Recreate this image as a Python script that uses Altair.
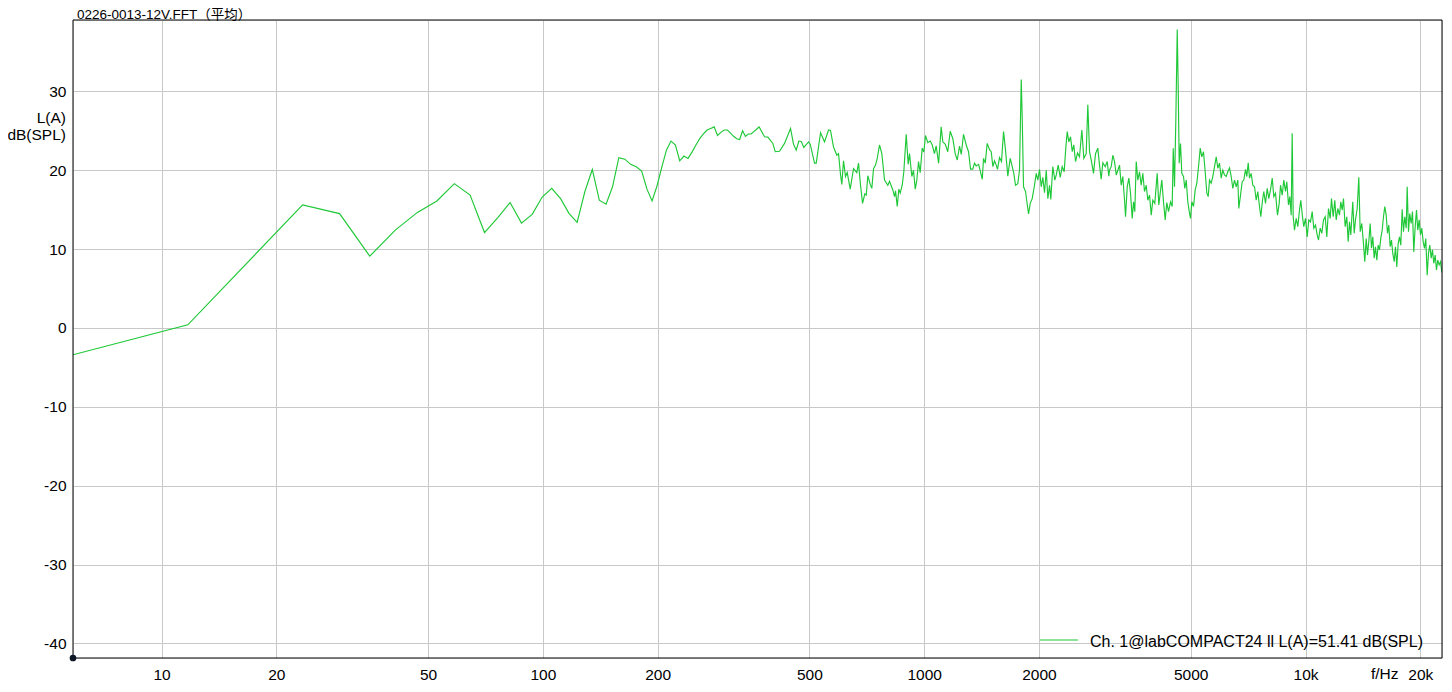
import altair as alt
import pandas as pd

title_text = "0226-0013-12V.FFT（平均）"
y_title_lines = ["L(A)", "dB(SPL)"]
x_unit_label = "f/Hz"
legend_label = "Ch. 1@labCOMPACT24 ll L(A)=51.41 dB(SPL)"

x_ticks = [10, 20, 50, 100, 200, 500, 1000, 2000, 5000, 10000, 20000]
y_ticks = [-40, -30, -20, -10, 0, 10, 20, 30]
x_range = [5.859, 22800]
y_range = [-41.85, 39.05]

line_color = "#1fc837"
FONT = "Liberation Sans, Arial, Noto Sans CJK SC"

# (frequency Hz, level dB)
spectrum_low = [
    (5.859, -3.4), (11.72, 0.4), (23.44, 15.6), (29.30, 14.5), (35.16, 9.1),
    (41.02, 12.4), (46.88, 14.65), (52.73, 16.1), (58.59, 18.3), (64.45, 16.85),
    (70.31, 12.1), (76.17, 14.0), (82.03, 15.9), (87.89, 13.3), (93.75, 14.4),
    (99.61, 16.6), (105.5, 17.7), (111.3, 16.4), (117.2, 14.5), (123.0, 13.4),
    (128.9, 17.3), (134.8, 20.1), (140.6, 16.2), (146.5, 15.7), (152.3, 17.9),
    (158.2, 21.6), (164.1, 21.4), (169.9, 20.75), (175.8, 20.45), (181.6, 19.9),
    (187.5, 17.6), (193.4, 16.1), (199.2, 18.0), (205.1, 20.4), (210.9, 22.55),
    (216.8, 23.7), (222.7, 23.2), (228.5, 21.2), (234.4, 21.8), (240.2, 21.5),
    (246.1, 22.3), (252.0, 23.2), (257.8, 24.0), (263.7, 24.6), (269.5, 25.1),
    (275.4, 25.3), (281.3, 25.5), (287.1, 24.4), (293.0, 24.8), (298.8, 25.1),
    (304.7, 25.1), (310.5, 24.7), (316.4, 24.3), (322.3, 24.0), (328.1, 23.9),
    (334.0, 25.0), (339.8, 24.3), (345.7, 24.6), (351.6, 24.6), (357.4, 24.9),
    (363.3, 25.2), (369.1, 25.5),
]

spectrum_mid = [
    (381.4, 24.25), (389.0, 24.2), (400.9, 23.4), (406.8, 22.35), (417.5, 22.4),
    (430.3, 23.4), (446.2, 25.3), (454.3, 23.3), (461.8, 22.55), (469.1, 23.7),
    (476.0, 23.65), (483.5, 22.9), (497.4, 23.6), (502.5, 23.3), (515.8, 20.9),
    (521.1, 20.9), (534.8, 24.75), (547.9, 23.6), (561.3, 25.1), (568.0, 25.05),
    (578.4, 22.95), (590.1, 21.9), (596.2, 22.1), (603.5, 19.4), (608.2, 18.2),
    (614.4, 21.2), (621.9, 19.2), (628.3, 19.7), (639.8, 17.6), (652.7, 20.2),
    (665.8, 19.7), (672.7, 20.9), (680.9, 18.1), (689.2, 15.8), (698.8, 17.0),
    (704.8, 16.85), (711.6, 19.3), (721.9, 18.2), (729.0, 17.7), (736.4, 20.2),
    (745.4, 20.65), (753.1, 21.5), (763.6, 23.2), (774.3, 22.1), (787.0, 18.75),
    (802.9, 18.1), (811.2, 18.6), (827.5, 17.5), (836.1, 16.65), (841.1, 17.4),
    (849.8, 15.4), (858.1, 17.6), (865.2, 17.1), (875.7, 18.1), (884.3, 19.8),
    (897.2, 24.55), (908.0, 20.75), (915.3, 22.1), (928.1, 19.2), (937.6, 20.0),
    (947.3, 17.6), (956.6, 18.75), (966.4, 21.1), (976.3, 19.7), (988.1, 22.8),
    (997.8, 22.3), (1008, 24.4), (1022, 23.5), (1037, 23.7), (1050, 23.2),
    (1064, 22.1), (1075, 23.1), (1091, 20.9), (1108, 25.5), (1119, 23.6),
    (1136, 23.3), (1153, 22.35), (1170, 24.95), (1189, 24.0), (1206, 22.1),
    (1221, 21.3), (1238, 23.05), (1251, 22.0), (1268, 24.55), (1289, 23.2),
    (1307, 22.35), (1323, 20.15), (1341, 20.15), (1355, 20.9), (1369, 20.55),
    (1389, 20.75), (1405, 19.8), (1420, 18.85), (1431, 21.5), (1446, 20.9),
    (1463, 23.4), (1484, 22.6),
]

spectrum_upper = [
    (1499, 22.35), (1514, 20.45), (1529, 21.2), (1545, 20.65), (1557, 20.1),
    (1576, 21.6), (1595, 21.1), (1615, 24.9), (1634, 22.55), (1657, 19.25),
    (1681, 21.5), (1702, 20.45), (1718, 19.6), (1736, 18.1), (1760, 18.3),
    (1778, 20.0), (1797, 31.5), (1808, 26.4), (1822, 17.9), (1844, 17.3),
    (1859, 16.0), (1878, 14.45), (1897, 15.8), (1920, 16.4), (1947, 18.1),
    (1967, 19.6), (1986, 18.75), (2007, 20.1), (2027, 17.9), (2047, 19.1),
    (2068, 17.15), (2090, 20.0), (2110, 16.4), (2132, 18.1), (2148, 16.3),
    (2174, 20.45), (2201, 18.75), (2220, 19.4), (2246, 20.65), (2274, 19.1),
    (2301, 20.45), (2329, 19.8), (2352, 22.9), (2372, 24.9), (2395, 23.6),
    (2420, 24.25), (2445, 22.35), (2468, 23.2), (2494, 21.1), (2524, 22.2),
    (2555, 21.7), (2591, 25.1), (2622, 21.5), (2660, 22.1), (2686, 28.3),
    (2714, 22.35), (2747, 21.1), (2780, 19.6), (2814, 22.1), (2853, 22.8),
    (2883, 20.65), (2912, 18.85), (2941, 20.95), (2984, 20.45), (3020, 21.1),
    (3049, 19.25), (3062, 20.0), (3094, 20.45), (3124, 21.9), (3156, 21.1),
    (3189, 19.4), (3220, 20.0), (3253, 20.65), (3286, 18.1), (3318, 19.2),
    (3353, 16.2), (3373, 14.1), (3408, 17.9), (3441, 19.0), (3476, 17.1),
    (3512, 13.9), (3540, 16.0), (3567, 14.75), (3598, 21.1), (3633, 18.75),
    (3670, 19.8), (3708, 18.1), (3744, 19.6), (3783, 17.3), (3822, 18.1),
    (3859, 16.2), (3899, 16.85), (3939, 14.3), (3977, 16.2), (4025, 15.8),
    (4084, 19.6), (4124, 15.6), (4159, 17.1), (4199, 18.75), (4242, 16.0),
    (4286, 13.7), (4328, 15.9), (4373, 14.75), (4426, 16.0), (4471, 15.4),
    (4499, 22.8), (4534, 17.9), (4570, 26.4), (4609, 37.85), (4636, 30.6),
    (4664, 20.9), (4701, 23.4), (4738, 19.6), (4787, 19.2), (4825, 17.7),
    (4866, 18.75), (4913, 16.0), (4955, 14.75), (4994, 13.9), (5033, 16.0),
    (5085, 15.4), (5137, 17.5), (5188, 18.35), (5241, 20.45), (5295, 22.8),
    (5346, 21.7), (5401, 22.35), (5457, 19.8), (5510, 17.1), (5557, 16.65),
    (5601, 18.75), (5658, 18.35), (5713, 19.2), (5773, 20.45), (5832, 21.7),
    (5889, 20.25), (5949, 20.9), (6011, 19.0), (6069, 20.0), (6132, 19.4),
    (6195, 19.2), (6255, 19.8), (6320, 20.3),
]

spectrum_high = [
    (6385, 19.2), (6447, 17.7), (6514, 18.75), (6581, 17.9), (6644, 18.75),
    (6685, 15.15), (6754, 16.85), (6823, 18.55), (6889, 18.75), (6961, 20.1),
    (7016, 19.2), (7075, 20.95), (7131, 19.0), (7204, 19.6), (7274, 18.1),
    (7350, 17.9), (7425, 16.2), (7497, 17.3), (7575, 15.4), (7634, 14.1),
    (7713, 16.2), (7774, 17.3), (7854, 15.8), (7935, 17.7), (8012, 16.4),
    (8095, 17.5), (8178, 19.0), (8258, 16.65), (8343, 17.1), (8444, 14.3),
    (8531, 15.8), (8599, 18.1), (8687, 16.85), (8771, 18.75), (8862, 17.3),
    (8932, 18.55), (9024, 15.6), (9095, 16.65), (9172, 14.3), (9227, 24.7),
    (9284, 14.1), (9357, 12.4), (9453, 13.9), (9545, 12.85), (9644, 14.95),
    (9720, 16.2), (9820, 14.1), (9897, 12.85), (9999, 13.9), (10103, 11.55),
    (10201, 13.7), (10306, 13.45), (10412, 14.75), (10513, 12.65), (10622, 13.05),
    (10731, 11.8), (10816, 11.15), (10927, 12.65), (11034, 12.0), (11147, 13.7),
    (11262, 14.1), (11372, 11.55), (11490, 15.15), (11607, 13.9), (11698, 16.4),
    (11820, 14.1), (11934, 16.2), (12036, 13.7), (12153, 15.15), (12278, 14.3),
    (12375, 16.0), (12479, 14.95), (12577, 16.4), (12707, 12.85), (12831, 14.1),
    (12939, 10.95), (13042, 13.45), (13145, 11.8), (13304, 16.0), (13417, 12.0),
    (13523, 13.7), (13662, 15.15), (13796, 19.1), (13912, 12.2), (14047, 13.25),
    (14167, 11.15), (14304, 8.4), (14426, 11.35), (14539, 9.25), (14655, 10.95),
    (14778, 13.25), (14894, 10.1), (15011, 11.55), (15140, 8.85), (15259, 10.3),
    (15379, 8.6), (15509, 10.5), (15632, 9.9), (15755, 11.35), (15888, 12.4),
    (16013, 14.1), (16140, 15.4), (16277, 14.3), (16405, 12.0), (16535, 13.05),
    (16674, 10.3), (16805, 11.15), (16938, 9.45), (17083, 8.4), (17217, 10.3),
    (17353, 7.75), (17499, 10.7), (17638, 11.55), (17777, 10.5), (17927, 15.05),
    (18068, 12.2), (18211, 14.1), (18366, 12.65), (18477, 17.9), (18624, 12.2),
    (18769, 14.5), (18928, 13.25), (19078, 14.75), (19228, 9.65), (19391, 12.85),
    (19545, 14.95), (19698, 12.4), (19865, 13.7), (20023, 11.8), (20180, 12.65),
    (20351, 10.95), (20512, 10.1), (20673, 11.35), (20849, 6.7), (21014, 9.45),
    (21178, 10.5), (21358, 8.85), (21527, 9.9), (21696, 8.2), (21880, 9.25),
    (22053, 7.35), (22227, 8.6), (22415, 8.0), (22593, 8.4), (22770, 7.15),
    (22963, 7.35), (23145, 5.45), (23327, 6.1), (23525, 4.2), (23666, 2.5),
    (23810, 2.3), (24000, -0.2),
]

rows = spectrum_low + spectrum_mid + spectrum_upper + spectrum_high
df = pd.DataFrame(rows, columns=["freq", "level"])
df["order"] = range(len(df))

# page is 1452 wide with 8px margins -> chart must stay within 1436px
W, H = 1369, 638

x_axis = alt.Axis(
    values=x_ticks,
    labelExpr="datum.value >= 10000 ? format(datum.value / 1000, 'd') + 'k' : format(datum.value, 'd')",
    grid=True, ticks=False, domain=False, title=None,
    labelPadding=9, labelFontSize=15.5, labelFont=FONT, labelColor="black",
    gridColor="#c8c8c8", gridWidth=1, labelOverlap=False, labelFlush=False,
)
y_axis = alt.Axis(
    values=y_ticks,
    labelExpr="'' + datum.value",
    grid=True, ticks=False, domain=False, title=None,
    labelPadding=7, labelFontSize=15.5, labelFont=FONT, labelColor="black",
    gridColor="#c8c8c8", gridWidth=1, labelOverlap=False, labelFlush=False,
)

line = alt.Chart(df).mark_line(color=line_color, strokeWidth=1.15, clip=True).encode(
    x=alt.X("freq:Q", scale=alt.Scale(type="log", domain=x_range, nice=False), axis=x_axis),
    y=alt.Y("level:Q", scale=alt.Scale(domain=y_range, nice=False, zero=False), axis=y_axis),
    order="order:Q",
)

frame = alt.Chart(pd.DataFrame({"t": [0]})).mark_rect(
    fillOpacity=0, stroke="black", strokeWidth=1
).encode(x=alt.value(0), x2=alt.value(W), y=alt.value(0), y2=alt.value(H))

title_mark = alt.Chart(pd.DataFrame({"t": [title_text]})).mark_text(
    align="left", baseline="alphabetic", font=FONT, fontSize=13.5, color="black"
).encode(text="t:N", x=alt.value(4), y=alt.value(-1))

ytitle1 = alt.Chart(pd.DataFrame({"t": [y_title_lines[0]]})).mark_text(
    align="right", baseline="alphabetic", font=FONT, fontSize=15.5, color="black"
).encode(text="t:N", x=alt.value(-7), y=alt.value(103))
ytitle2 = alt.Chart(pd.DataFrame({"t": [y_title_lines[1]]})).mark_text(
    align="right", baseline="alphabetic", font=FONT, fontSize=15.5, color="black"
).encode(text="t:N", x=alt.value(-7), y=alt.value(120))

unit_mark = alt.Chart(pd.DataFrame({"t": [x_unit_label]})).mark_text(
    align="left", baseline="alphabetic", font=FONT, fontSize=15.5, color="black"
).encode(text="t:N", x=alt.value(1298), y=alt.value(659))

legend_line = alt.Chart(pd.DataFrame({"t": [legend_label]})).mark_rule(
    color=line_color, strokeWidth=1.2
).encode(x=alt.value(967), x2=alt.value(1005), y=alt.value(620))

legend_text = alt.Chart(pd.DataFrame({"t": [legend_label]})).mark_text(
    align="left", baseline="alphabetic", font=FONT, fontSize=16, color="black"
).encode(text="t:N", x=alt.value(1017), y=alt.value(627))

origin_dot = alt.Chart(pd.DataFrame({"t": [0]})).mark_point(
    filled=True, size=45, color="#0d1726", opacity=1
).encode(x=alt.value(0), y=alt.value(H))

chart = alt.layer(
    line, frame, title_mark, ytitle1, ytitle2, unit_mark, legend_line, legend_text, origin_dot
).properties(
    width=W, height=H,
    autosize=alt.AutoSizeParams(type="none"),
    padding={"left": 65, "top": 12, "right": 2, "bottom": 34},
).configure_view(
    stroke="black", strokeWidth=1
).configure(background="white")

chart.save("out.html", embed_options={"renderer": "svg", "actions": False})
